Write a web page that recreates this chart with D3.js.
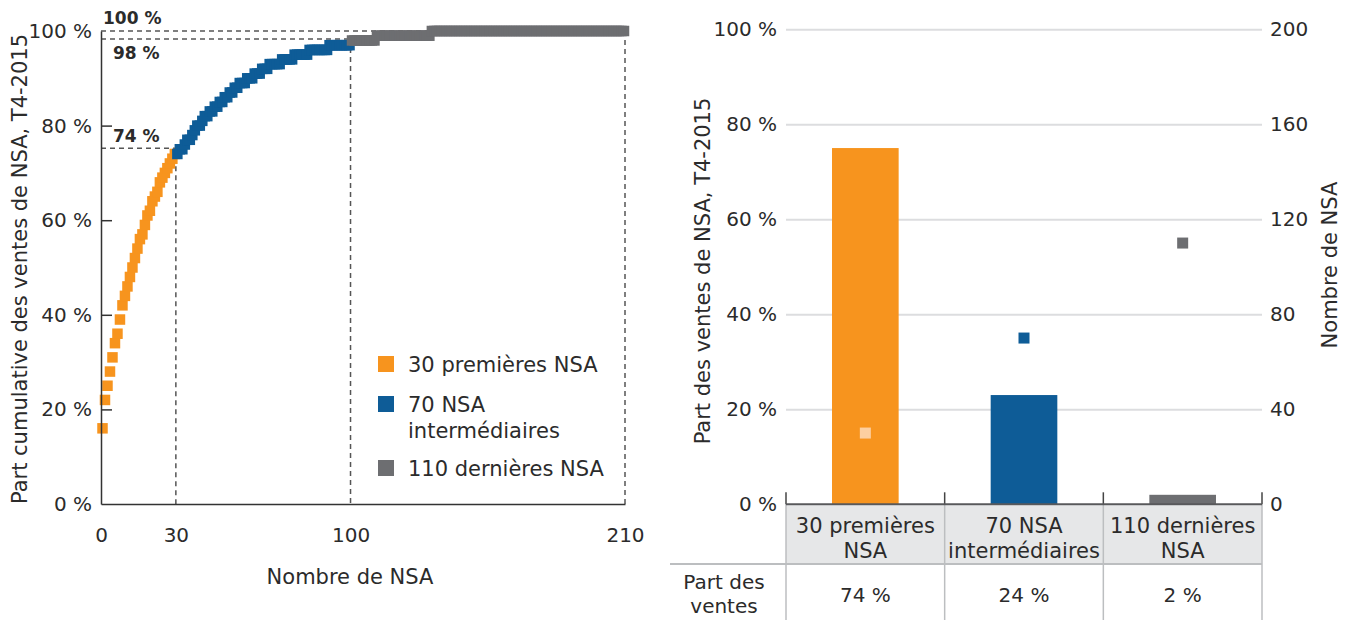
<!DOCTYPE html>
<html>
<head>
<meta charset="utf-8">
<script src="https://cdn.jsdelivr.net/npm/d3@7"></script>
<style>
  body { margin: 0; background: #fff; }
  text { font-family: "DejaVu Sans", sans-serif; fill: #2b2b2b; }
</style>
</head>
<body>
<div id="chart"></div>
<script>
// cumulative share of sales (%) by NSA rank
const orangeCum = [16, 22, 25, 28, 31, 34, 36, 39, 42, 44, 46, 48, 50, 52, 54, 56, 57, 59, 61, 62,
  64, 65, 66, 68, 69, 70, 71, 72, 73, 74];
const blueCum = [74, 75, 75, 76, 77, 77, 78, 79, 80, 80,
  81, 82, 82, 83, 83, 84, 84, 85, 85, 86,
  86, 87, 87, 88, 88, 89, 89, 89, 90, 90,
  90, 91, 91, 91, 92, 92, 92, 93, 93, 93,
  93, 93, 94, 94, 94, 94, 94, 95, 95, 95,
  95, 95, 95, 96, 96, 96, 96, 96, 96, 96,
  96, 97, 97, 97, 97, 97, 97, 97, 97, 97];
const grayCum = [98, 98, 98, 98, 98, 98, 98, 98, 98, 98,
  99, 99, 99, 99, 99, 99, 99, 99, 99, 99, 99, 99, 99, 99, 99, 99, 99, 99, 99, 99, 99, 99,
  100, 100, 100, 100, 100, 100, 100, 100, 100, 100, 100, 100, 100, 100, 100, 100, 100, 100, 100, 100,
  100, 100, 100, 100, 100, 100, 100, 100, 100, 100, 100, 100, 100, 100, 100, 100, 100, 100, 100, 100,
  100, 100, 100, 100, 100, 100, 100, 100, 100, 100, 100, 100, 100, 100, 100, 100, 100, 100, 100, 100,
  100, 100, 100, 100, 100, 100, 100, 100, 100, 100, 100, 100, 100, 100, 100, 100, 100, 100];

const groupColors = ["#f7941e", "#0e5c97", "#6d6e71"];
const legendLines = [["30 premières NSA"], ["70 NSA", "intermédiaires"], ["110 dernières NSA"]];

// guide lines of the left chart
const guideRank = [30, 100, 210];
const guideLevel = [75.2, 98.3, 100];
const guideLabel = ["74 %", "98 %", "100 %"];

const xTicksLeft = [0, 30, 100, 210];
const yTicks = [0, 20, 40, 60, 80, 100];

// right chart
const groupIds = ["top30", "mid70", "last110"];
const headerLines = [["30 premières", "NSA"], ["70 NSA", "intermédiaires"], ["110 dernières", "NSA"]];
const barShare = [75, 23, 2];
const nsaCount = [30, 70, 110];
const tableShare = ["74 %", "24 %", "2 %"];
const countTicks = [0, 40, 80, 120, 160, 200];

const wordSize = "21px";
const tickSize = "20px";

const svg = d3.select("#chart").append("svg")
    .attr("width", 1349)
    .attr("height", 620);

// ---------- left chart ----------
const xL = d3.scaleLinear().domain([0, 210]).range([101, 625]);
const yL = d3.scaleLinear().domain([0, 100]).range([504, 31]);

const points = [];
orangeCum.forEach((v, i) => points.push({rank: i + 1, value: v, g: 0}));
blueCum.forEach((v, i) => points.push({rank: i + 31, value: v, g: 1}));
grayCum.forEach((v, i) => points.push({rank: i + 101, value: v, g: 2}));

const left = svg.append("g");

// dashed guides
const guides = left.append("g")
    .attr("stroke", "#555")
    .attr("stroke-width", 1.5)
    .attr("stroke-dasharray", "5,4");
guideRank.forEach((r, i) => {
  guides.append("line")
      .attr("x1", xL(0)).attr("x2", xL(r))
      .attr("y1", yL(guideLevel[i])).attr("y2", yL(guideLevel[i]));
  guides.append("line")
      .attr("x1", xL(r)).attr("x2", xL(r))
      .attr("y1", yL(guideLevel[i])).attr("y2", yL(0));
});

// squares
const sq = 10.5;
left.append("g").selectAll("rect")
    .data(points)
    .enter()
    .append("rect")
    .attr("x", d => xL(d.rank) - 1 - sq / 2)
    .attr("y", d => yL(d.value) - sq / 2)
    .attr("width", sq)
    .attr("height", sq)
    .attr("fill", d => groupColors[d.g]);

// axes
const yAxisL = left.append("g")
    .attr("transform", `translate(${xL(0)},0)`)
    .call(d3.axisLeft(yL).tickValues(yTicks).tickSize(-11).tickPadding(9)
      .tickSizeOuter(0).tickFormat(d => d + " %"));
yAxisL.select(".domain").attr("stroke", "#333").attr("stroke-width", 1.5);
yAxisL.selectAll(".tick line")
    .attr("stroke", "#333").attr("stroke-width", 1.5)
    .attr("display", d => (d === 0 || d === 100) ? "none" : null);
yAxisL.selectAll(".tick text").style("font-size", tickSize).attr("fill", "#2b2b2b");

const xAxisL = left.append("g")
    .attr("transform", `translate(0,${yL(0)})`)
    .call(d3.axisBottom(xL).tickValues(xTicksLeft).tickSize(0).tickPadding(24).tickSizeOuter(0));
xAxisL.select(".domain").attr("stroke", "#333").attr("stroke-width", 1.5);
xAxisL.selectAll(".tick text").style("font-size", tickSize).attr("fill", "#2b2b2b");

left.append("text")
    .attr("x", 350).attr("y", 584)
    .attr("text-anchor", "middle")
    .style("font-size", wordSize)
    .text("Nombre de NSA");

left.append("text")
    .attr("transform", "translate(20,269) rotate(-90)")
    .attr("text-anchor", "middle")
    .attr("dy", "0.35em")
    .style("font-size", wordSize)
    .text("Part cumulative des ventes de NSA, T4-2015");

// bold guide labels
const guideLabelX = [113, 113, 103];
const guideLabelDy = [-6, 20, -7];
guideLabel.forEach((t, i) => {
  left.append("text")
      .attr("x", guideLabelX[i])
      .attr("y", yL(guideLevel[i]) + guideLabelDy[i])
      .style("font-size", "17px")
      .style("font-weight", "bold")
      .attr("fill", "#231f20")
      .text(t);
});

// legend
const legendTop = [356, 396, 460];
legendLines.forEach((lines, i) => {
  const lg = left.append("g").attr("transform", `translate(378,${legendTop[i]})`);
  lg.append("rect").attr("width", 16).attr("height", 16).attr("fill", groupColors[i]);
  lines.forEach((l, j) => {
    lg.append("text")
        .attr("x", 30).attr("y", 15.5 + j * 26)
        .style("font-size", wordSize)
        .text(l);
  });
});

// ---------- right chart ----------
const right = svg.append("g");
const xR = d3.scaleBand().domain(groupIds).range([786, 1262]);
const yR = d3.scaleLinear().domain([0, 100]).range([504.3, 29.3]);
const yN = d3.scaleLinear().domain([0, 200]).range([504.3, 29.3]);

const grid = right.append("g")
    .attr("transform", `translate(${xR.range()[0]},0)`)
    .call(d3.axisLeft(yR).tickValues(yTicks).tickSize(-(xR.range()[1] - xR.range()[0]))
      .tickPadding(9).tickFormat(d => d + " %"));
grid.select(".domain").remove();
grid.selectAll(".tick line")
    .attr("stroke", "#dcdddf").attr("stroke-width", 2)
    .attr("display", d => d === 0 ? "none" : null);
grid.selectAll(".tick text").style("font-size", tickSize).attr("fill", "#2b2b2b");

const rAxis = right.append("g")
    .attr("transform", `translate(${xR.range()[1]},0)`)
    .call(d3.axisRight(yN).tickValues(countTicks).tickSize(0).tickPadding(8));
rAxis.select(".domain").remove();
rAxis.selectAll(".tick text").style("font-size", tickSize).attr("fill", "#2b2b2b");

// table header background
right.append("rect")
    .attr("x", xR.range()[0]).attr("y", yR(0) + 1)
    .attr("width", xR.range()[1] - xR.range()[0])
    .attr("height", 563 - yR(0) - 1)
    .attr("fill", "#e6e7e8");

// bars
const barW = xR.bandwidth() * 0.42;
right.append("g").selectAll("rect")
    .data(groupIds)
    .enter()
    .append("rect")
    .attr("x", d => xR(d) + xR.bandwidth() / 2 - barW / 2)
    .attr("y", (d, i) => yR(barShare[i]))
    .attr("width", barW)
    .attr("height", (d, i) => yR(0) - yR(barShare[i]))
    .attr("fill", (d, i) => groupColors[i]);

// count markers
const markerColors = ["#fdcfa0", "#0e5c97", "#6d6e71"];
right.append("g").selectAll("rect")
    .data(groupIds)
    .enter()
    .append("rect")
    .attr("x", d => xR(d) + xR.bandwidth() / 2 - 5.5)
    .attr("y", (d, i) => yN(nsaCount[i]) - 5.5)
    .attr("width", 11)
    .attr("height", 11)
    .attr("fill", (d, i) => markerColors[i]);

// table lines
const bounds = groupIds.map(d => xR(d)).concat([xR.range()[1]]);
right.append("g").selectAll("line")
    .data(bounds)
    .enter()
    .append("line")
    .attr("x1", d => d).attr("x2", d => d)
    .attr("y1", yR(0)).attr("y2", 620)
    .attr("stroke", "#bcbec0").attr("stroke-width", 1.5);
right.append("g").selectAll("line")
    .data(bounds)
    .enter()
    .append("line")
    .attr("x1", d => d).attr("x2", d => d)
    .attr("y1", yR(0) - 12).attr("y2", yR(0))
    .attr("stroke", "#444").attr("stroke-width", 1.5);
right.append("line")
    .attr("x1", 670).attr("x2", xR.range()[1])
    .attr("y1", 564).attr("y2", 564)
    .attr("stroke", "#bcbec0").attr("stroke-width", 2);

// baseline
right.append("line")
    .attr("x1", xR.range()[0]).attr("x2", xR.range()[1])
    .attr("y1", yR(0)).attr("y2", yR(0))
    .attr("stroke", "#58595b").attr("stroke-width", 2);

// header text
headerLines.forEach((lines, i) => {
  lines.forEach((l, j) => {
    right.append("text")
        .attr("x", xR(groupIds[i]) + xR.bandwidth() / 2)
        .attr("y", 532.5 + j * 25)
        .attr("text-anchor", "middle")
        .style("font-size", wordSize)
        .text(l);
  });
  right.append("text")
      .attr("x", xR(groupIds[i]) + xR.bandwidth() / 2)
      .attr("y", 602)
      .attr("text-anchor", "middle")
      .style("font-size", tickSize)
      .text(tableShare[i]);
});
["Part des", "ventes"].forEach((l, j) => {
  right.append("text")
      .attr("x", 724).attr("y", 589 + j * 24)
      .attr("text-anchor", "middle")
      .style("font-size", "20px")
      .text(l);
});

// axis titles
right.append("text")
    .attr("transform", "translate(703,271) rotate(-90)")
    .attr("text-anchor", "middle")
    .attr("dy", "0.35em")
    .style("font-size", wordSize)
    .text("Part des ventes de NSA, T4-2015");
right.append("text")
    .attr("transform", "translate(1330,265) rotate(-90)")
    .attr("text-anchor", "middle")
    .attr("dy", "0.35em")
    .style("font-size", wordSize)
    .text("Nombre de NSA");
</script>
</body>
</html>
